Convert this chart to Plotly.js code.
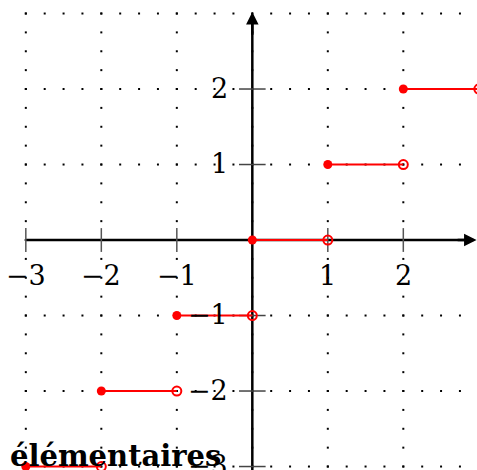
<!DOCTYPE html>
<html>
<head>
<meta charset="utf-8">
<script src="https://cdn.plot.ly/plotly-3.0.1.min.js"></script>
<style>html,body{margin:0;padding:0;background:#fff;}#chart{width:477px;height:470px;}</style>
</head>
<body>
<div id="chart"></div>
<script>
// Floor function steps: segment [x, x+1) at height y
const stepStarts = [-3, -2, -1, 0, 1, 2];
const stepValues = [-3, -2, -1, 0, 1, 2];
// Tick labels
const xTicks = [-3, -2, -1, 1, 2];
const xTickLabels = ['−3', '−2', '−1', '1', '2'];
const yTicks = [-3, -2, -1, 1, 2];
const yTickLabels = ['−3', '−2', '−1', '1', '2'];
// Grid lines (dotted) at integers
const gridLines = [-3, -2, -1, 0, 1, 2, 3];
const gridStep = 0.25;
const titleText = 'élémentaires';

const xRange = [-3.342, 2.976];
const yRange = [-3.046, 3.179];

// grid dots along integer lines
const gx = [], gy = [];
gridLines.forEach(k => {
  for (let t = gridLines[0]; t <= gridLines[gridLines.length - 1] + 1e-9; t += gridStep) {
    gx.push(t); gy.push(k);
    gx.push(k); gy.push(t);
  }
});

const traces = [];
traces.push({x: gx, y: gy, mode: 'markers', type: 'scatter', hoverinfo: 'skip',
  marker: {symbol: 'square', size: 2, color: '#000'}});

// tick marks
traces.push({x: xTicks, y: xTicks.map(() => 0), mode: 'markers', type: 'scatter', hoverinfo: 'skip',
  marker: {symbol: 'line-ns', size: 17, line: {width: 1.5, color: '#555'}}});
traces.push({x: yTicks.map(() => 0), y: yTicks, mode: 'markers', type: 'scatter', hoverinfo: 'skip',
  marker: {symbol: 'line-ew', size: 19, line: {width: 1.5, color: '#444'}}});

// step segments
const sx = [], sy = [];
stepStarts.forEach((s, i) => { sx.push(s, s + 1, null); sy.push(stepValues[i], stepValues[i], null); });
traces.push({x: sx, y: sy, mode: 'lines', type: 'scatter', hoverinfo: 'skip',
  line: {color: '#ff0000', width: 2}});
// filled left endpoints
traces.push({x: stepStarts, y: stepValues, mode: 'markers', type: 'scatter', hoverinfo: 'skip',
  marker: {symbol: 'circle', size: 9, color: '#ff0000'}});
// open right endpoints
traces.push({x: stepStarts.map(s => s + 1), y: stepValues, mode: 'markers', type: 'scatter', hoverinfo: 'skip',
  marker: {symbol: 'circle-open', size: 9, color: '#ff0000', line: {width: 2, color: '#ff0000'}}});

const labelFont = {family: 'DejaVu Serif', size: 27, color: '#000'};
const annotations = [];
xTicks.forEach((t, i) => annotations.push({x: t, y: 0, xref: 'x', yref: 'y', text: xTickLabels[i],
  showarrow: false, xanchor: 'center', yanchor: 'middle', yshift: -35, font: labelFont}));
yTicks.forEach((t, i) => annotations.push({x: 0, y: t, xref: 'x', yref: 'y', text: yTickLabels[i],
  showarrow: false, xanchor: 'right', yanchor: 'middle', xshift: -22, yshift: 1, font: labelFont}));
// arrow heads
annotations.push({x: 2.97, y: 0, ax: 2.7, ay: 0, xref: 'x', yref: 'y', axref: 'x', ayref: 'y', text: '',
  showarrow: true, arrowhead: 2, arrowsize: 1, arrowwidth: 2.5, arrowcolor: '#000', standoff: 0});
annotations.push({x: 0, y: 3.02, ax: 0, ay: 2.7, xref: 'x', yref: 'y', axref: 'x', ayref: 'y', text: '',
  showarrow: true, arrowhead: 2, arrowsize: 1, arrowwidth: 2.5, arrowcolor: '#000', standoff: 0});
// cropped title text
annotations.push({x: 0, y: 0, xref: 'paper', yref: 'paper', text: '<b>' + titleText + '</b>',
  showarrow: false, xanchor: 'left', yanchor: 'bottom', xshift: 8, yshift: -5,
  font: {family: 'DejaVu Serif', size: 29, color: '#000'}});

const layout = {
  width: 477, height: 470,
  margin: {l: 0, r: 0, t: 0, b: 0},
  paper_bgcolor: '#fff', plot_bgcolor: '#fff',
  showlegend: false,
  xaxis: {range: xRange, visible: false, fixedrange: true},
  yaxis: {range: yRange, visible: false, fixedrange: true},
  shapes: [
    {type: 'line', layer: 'below', xref: 'x', yref: 'y', x0: -3, x1: 2.9, y0: 0, y1: 0, line: {color: '#000', width: 2.5}},
    {type: 'line', layer: 'below', xref: 'x', yref: 'y', x0: 0, x1: 0, y0: yRange[0], y1: 2.95, line: {color: '#000', width: 2.5}}
  ],
  annotations: annotations
};

Plotly.newPlot('chart', traces, layout, {displayModeBar: false, staticPlot: true});
</script>
</body>
</html>
